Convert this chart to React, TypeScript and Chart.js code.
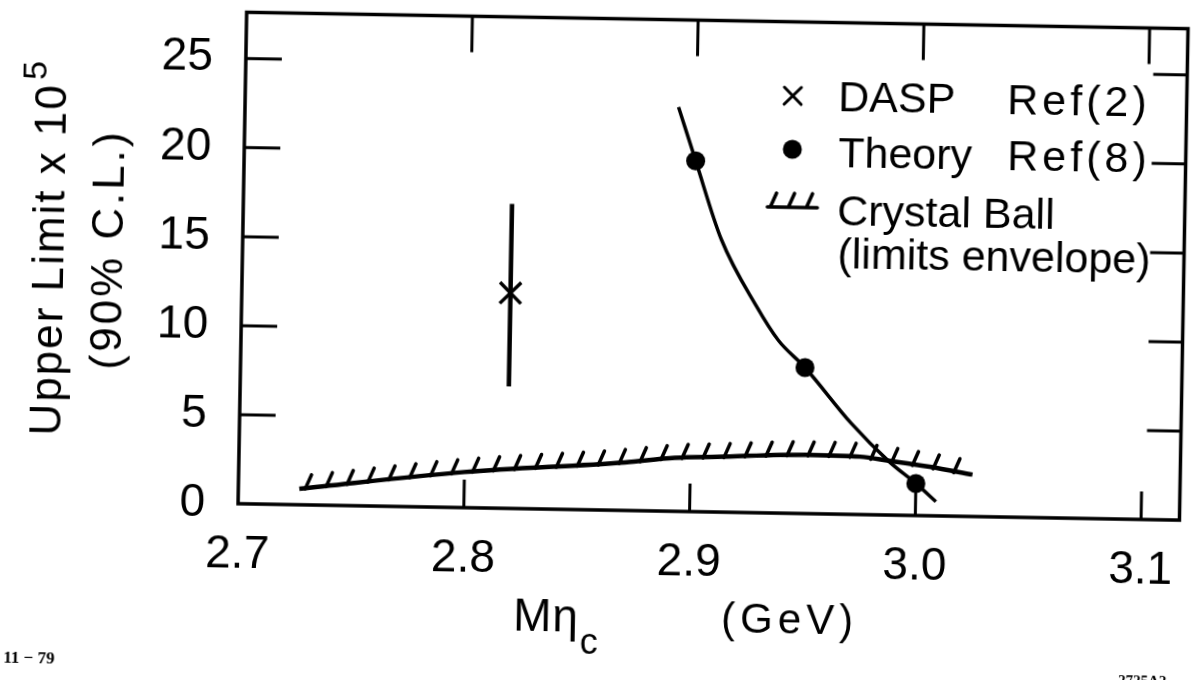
import React, { useEffect, useRef } from "react";
import { Chart, registerables } from "chart.js";

Chart.register(...registerables);

// ---- data ----
const crystalBallMass = [2.727, 2.8, 2.871, 2.893, 2.912, 2.951, 2.975, 2.988, 3.006, 3.025];
const crystalBallLimit = [0.9, 2.0, 2.7, 3.0, 3.1, 3.3, 3.25, 3.05, 2.75, 2.35];

const theoryCurveMass = [2.892, 2.9, 2.912, 2.928, 2.938, 2.95, 2.971, 2.988, 3.0, 3.009];
const theoryCurveLimit = [22.7, 19.7, 15.3, 11.6, 9.7, 8.2, 5.1, 3.0, 1.8, 0.8];

const theoryPointMass = [2.9, 2.95, 3.0];
const theoryPointLimit = [19.7, 8.2, 1.8];

const daspMass = [2.819];
const daspLimit = [12.1];
const daspLow = [6.85];
const daspHigh = [17.1];

const xTickLabels = ["2.7", "2.8", "2.9", "3.0", "3.1"];
const yTickLabels = ["0", "5", "10", "15", "20", "25"];

const legendNames = ["DASP", "Theory", "Crystal Ball", "(limits envelope)"];
const legendRefs = ["Ref(2)", "Ref(8)"];

const yTitleMain = "Upper Limit x 10";
const yTitleExp = "5";
const yTitleSub = "(90% C.L.)";
const xTitleMain = "M";
const xTitleGreek = "η";
const xTitleSubscript = "c";
const xTitleUnit = "(GeV)";
const noteLeft = "11 − 79";
const noteRight = "2725A2";

const X_MIN = 2.7;
const X_MAX = 3.117;
const Y_MIN = 0;
const Y_MAX = 27.6;

const FONT = "'Liberation Sans', Arial, Helvetica, sans-serif";

function pts(xs: number[], ys: number[]) {
  return xs.map((x, i) => ({ x, y: ys[i] }));
}

export default function App() {
  const ref = useRef<HTMLCanvasElement>(null);

  useEffect(() => {
    const canvas = ref.current;
    if (!canvas) return;

    const framePlugin = {
      id: "frameTicks",
      beforeDatasetsDraw(chart: any) {
        const { ctx, chartArea: a, scales } = chart;
        const x = scales.x;
        const y = scales.y;
        ctx.save();
        ctx.strokeStyle = "#000";
        ctx.lineWidth = 3.5;
        ctx.strokeRect(a.left, a.top, a.right - a.left, a.bottom - a.top);
        ctx.lineWidth = 3;
        ctx.beginPath();
        x.ticks.forEach((t: any) => {
          if (t.value <= X_MIN + 1e-9) return;
          const px = x.getPixelForValue(t.value);
          ctx.moveTo(px, a.bottom);
          ctx.lineTo(px, a.bottom - 28);
          ctx.moveTo(px, a.top);
          ctx.lineTo(px, a.top + 36);
        });
        y.ticks.forEach((t: any) => {
          if (t.value <= Y_MIN + 1e-9) return;
          const py = y.getPixelForValue(t.value);
          ctx.moveTo(a.left, py);
          ctx.lineTo(a.left + 36, py);
          ctx.moveTo(a.right, py);
          ctx.lineTo(a.right - 34, py);
        });
        ctx.stroke();
        ctx.restore();
      },
    };

    const hatchPlugin = {
      id: "hatches",
      afterDatasetsDraw(chart: any) {
        const { ctx } = chart;
        const meta = chart.getDatasetMeta(0);
        const el = meta.data as any[];
        if (!el || el.length < 2) return;
        const poly: { x: number; y: number }[] = [];
        for (let i = 0; i < el.length - 1; i++) {
          const p0 = el[i];
          const p1 = el[i + 1];
          const c1x = p0.cp2x ?? p0.x;
          const c1y = p0.cp2y ?? p0.y;
          const c2x = p1.cp1x ?? p1.x;
          const c2y = p1.cp1y ?? p1.y;
          for (let s = 0; s < 24; s++) {
            const t = s / 24;
            const u = 1 - t;
            poly.push({
              x: u * u * u * p0.x + 3 * u * u * t * c1x + 3 * u * t * t * c2x + t * t * t * p1.x,
              y: u * u * u * p0.y + 3 * u * u * t * c1y + 3 * u * t * t * c2y + t * t * t * p1.y,
            });
          }
        }
        poly.push({ x: el[el.length - 1].x, y: el[el.length - 1].y });
        const spacing = 21;
        let next = 9;
        let acc = 0;
        ctx.save();
        ctx.strokeStyle = "#000";
        ctx.lineWidth = 3.5;
        ctx.lineCap = "round";
        ctx.beginPath();
        for (let i = 0; i < poly.length - 1; i++) {
          const a = poly[i];
          const b = poly[i + 1];
          const d = Math.hypot(b.x - a.x, b.y - a.y);
          while (acc + d >= next) {
            const f = (next - acc) / d;
            const hx = a.x + (b.x - a.x) * f;
            const hy = a.y + (b.y - a.y) * f;
            ctx.moveTo(hx - 3, hy + 1);
            ctx.lineTo(hx + 3, hy - 13);
            next += spacing;
          }
          acc += d;
        }
        ctx.stroke();
        ctx.restore();
      },
    };

    const textPlugin = {
      id: "texts",
      afterDraw(chart: any) {
        const { ctx } = chart;
        const setLS = (v: string) => {
          (ctx as any).letterSpacing = v;
        };
        ctx.save();
        ctx.fillStyle = "#000";
        ctx.strokeStyle = "#000";
        ctx.textAlign = "left";
        ctx.textBaseline = "alphabetic";

        // y-axis title, line 1 with exponent
        ctx.save();
        ctx.translate(62, 257);
        ctx.rotate(-Math.PI / 2);
        setLS("2px");
        ctx.font = `44px ${FONT}`;
        const wMain = ctx.measureText(yTitleMain).width;
        ctx.font = `34px ${FONT}`;
        const wExp = ctx.measureText(yTitleExp).width;
        const total = wMain + 3 + wExp;
        ctx.font = `44px ${FONT}`;
        ctx.fillText(yTitleMain, -total / 2, 0);
        ctx.font = `34px ${FONT}`;
        ctx.fillText(yTitleExp, -total / 2 + wMain + 3, -20);
        ctx.restore();

        // y-axis title, line 2
        ctx.save();
        ctx.translate(121, 258);
        ctx.rotate(-Math.PI / 2);
        setLS("3px");
        ctx.font = `44px ${FONT}`;
        const w2 = ctx.measureText(yTitleSub).width;
        ctx.fillText(yTitleSub, -w2 / 2, 0);
        ctx.restore();

        // x-axis title
        setLS("0px");
        ctx.font = `46px ${FONT}`;
        let xx = 518;
        ctx.fillText(xTitleMain, xx, 632);
        xx += ctx.measureText(xTitleMain).width + 1;
        ctx.fillText(xTitleGreek, xx, 632);
        xx += ctx.measureText(xTitleGreek).width + 2;
        ctx.font = `36px ${FONT}`;
        ctx.fillText(xTitleSubscript, xx, 654);
        setLS("5px");
        ctx.font = `42px ${FONT}`;
        ctx.fillText(xTitleUnit, 726, 630);

        // legend
        setLS("0px");
        ctx.font = `43px ${FONT}`;
        ctx.fillText(legendNames[0], 834, 107);
        ctx.fillText(legendNames[1], 835, 163);
        ctx.fillText(legendNames[2], 835, 221);
        ctx.fillText(legendNames[3], 836, 264);
        setLS("4px");
        ctx.fillText(legendRefs[0], 1003, 107);
        ctx.fillText(legendRefs[1], 1004, 163);
        setLS("0px");

        // legend symbols
        ctx.lineWidth = 3;
        ctx.lineCap = "round";
        ctx.beginPath();
        ctx.moveTo(780, 84);
        ctx.lineTo(797, 101);
        ctx.moveTo(797, 84);
        ctx.lineTo(780, 101);
        ctx.stroke();
        ctx.beginPath();
        ctx.arc(789, 146, 9.5, 0, Math.PI * 2);
        ctx.fill();
        ctx.lineWidth = 3.5;
        ctx.beginPath();
        ctx.moveTo(765, 204);
        ctx.lineTo(815, 204);
        [768, 786, 804].forEach((hx) => {
          ctx.moveTo(hx, 204);
          ctx.lineTo(hx + 6, 190);
        });
        ctx.stroke();

        // small annotations
        ctx.font = `bold 17px 'Liberation Serif', serif`;
        ctx.fillText(noteLeft, 9, 673);
        ctx.font = `bold 15px 'Liberation Serif', serif`;
        ctx.fillText(noteRight, 1124, 676);
        ctx.restore();
      },
    };

    const chart = new Chart(canvas, {
      type: "scatter",
      data: {
        datasets: [
          {
            label: "Crystal Ball (limits envelope)",
            data: pts(crystalBallMass, crystalBallLimit),
            showLine: true,
            borderColor: "#000",
            backgroundColor: "#000",
            borderWidth: 4.5,
            pointRadius: 0,
            cubicInterpolationMode: "monotone",
          },
          {
            label: "Theory curve",
            data: pts(theoryCurveMass, theoryCurveLimit),
            showLine: true,
            borderColor: "#000",
            backgroundColor: "#000",
            borderWidth: 3.5,
            pointRadius: 0,
            cubicInterpolationMode: "monotone",
          },
          {
            label: "Theory Ref(8)",
            data: pts(theoryPointMass, theoryPointLimit),
            showLine: false,
            pointRadius: 9.5,
            pointBackgroundColor: "#000",
            pointBorderWidth: 0,
            borderColor: "#000",
          },
          {
            label: "DASP range",
            data: [
              { x: daspMass[0], y: daspLow[0] },
              { x: daspMass[0], y: daspHigh[0] },
            ],
            showLine: true,
            borderColor: "#000",
            borderWidth: 4.5,
            pointRadius: 0,
          },
          {
            label: "DASP Ref(2)",
            data: pts(daspMass, daspLimit),
            showLine: false,
            pointStyle: "crossRot",
            pointRadius: 15,
            pointBorderWidth: 3.5,
            pointBorderColor: "#000",
            borderColor: "#000",
          },
        ] as any,
      },
      options: {
        responsive: false,
        animation: false,
        devicePixelRatio: 1,
        events: [],
        layout: { padding: { left: 0, right: 11, top: 18, bottom: 0 } },
        plugins: {
          legend: { display: false },
          tooltip: { enabled: false },
          title: { display: false },
        },
        scales: {
          x: {
            type: "linear",
            position: "bottom",
            min: X_MIN,
            max: X_MAX,
            grid: { display: false, drawTicks: false },
            border: { display: false },
            ticks: {
              stepSize: 0.1,
              includeBounds: false,
              autoSkip: false,
              maxRotation: 0,
              minRotation: 0,
              padding: 24,
              color: "#000",
              font: { size: 46, family: FONT },
              callback: (v: any) => {
                const i = Math.round((Number(v) - X_MIN) / 0.1);
                return xTickLabels[i] ?? Number(v).toFixed(1);
              },
            },
            afterFit: (s: any) => {
              s.height = 170;
              s.paddingLeft = 0;
              s.paddingRight = 0;
              s.paddingTop = 0;
              s.paddingBottom = 0;
            },
          },
          y: {
            type: "linear",
            position: "left",
            min: Y_MIN,
            max: Y_MAX,
            grid: { display: false, drawTicks: false },
            border: { display: false },
            ticks: {
              stepSize: 5,
              includeBounds: false,
              padding: 33,
              color: "#000",
              font: { size: 46, family: FONT },
              callback: (v: any) => {
                const i = Math.round(Number(v) / 5);
                return yTickLabels[i] ?? String(v);
              },
            },
            afterFit: (s: any) => {
              s.width = 241;
              s.paddingLeft = 0;
              s.paddingRight = 0;
              s.paddingTop = 0;
              s.paddingBottom = 0;
            },
          },
        },
      } as any,
      plugins: [framePlugin, hatchPlugin, textPlugin],
    });

    return () => {
      chart.destroy();
    };
  }, []);

  return (
    <div
      style={{
        position: "fixed",
        left: 0,
        top: 0,
        width: 1201,
        height: 680,
        background: "#fff",
        transform: "rotate(1deg)",
        transformOrigin: "600.5px 340px",
      }}
    >
      <canvas ref={ref} width={1201} height={680} style={{ display: "block", width: 1201, height: 680 }} />
    </div>
  );
}
